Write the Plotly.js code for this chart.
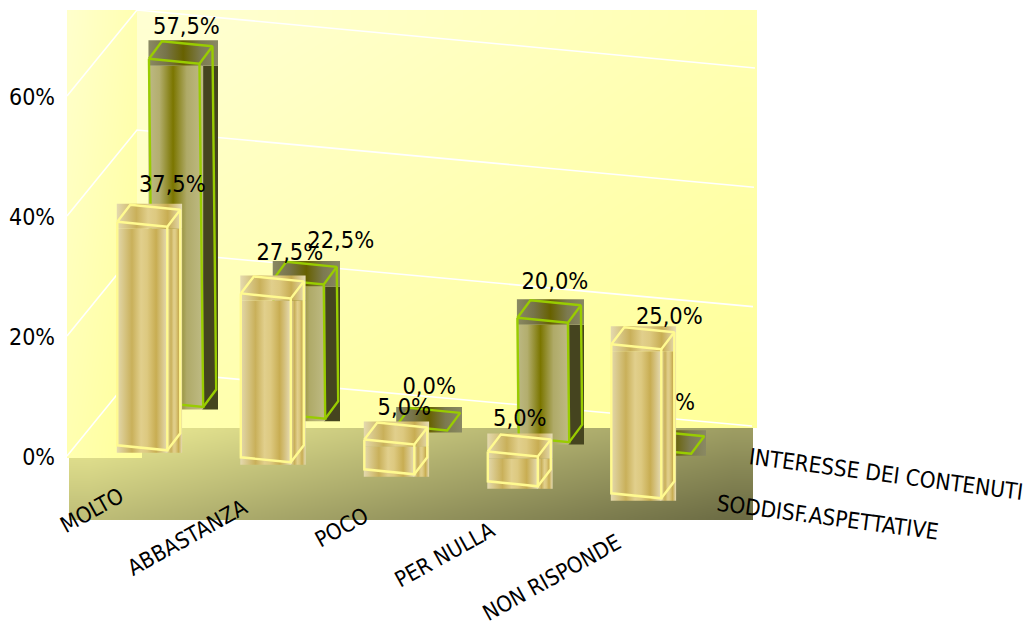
<!DOCTYPE html>
<html>
<head>
<meta charset="utf-8">
<script src="https://cdn.plot.ly/plotly-3.0.1.min.js"></script>
<style>html,body{margin:0;padding:0;background:#fff}#chart{width:1030px;height:628px}</style>
</head>
<body>
<div id="chart"></div>
<script>
// Survey answers, in percent, one value per category for each series.
const categories = ['MOLTO', 'ABBASTANZA', 'POCO', 'PER NULLA', 'NON RISPONDE'];
const soddisfAspettative = [37.5, 27.5, 5.0, 5.0, 25.0];
const interesseContenuti = [57.5, 22.5, 0.0, 20.0, 0.0];
const seriesNames = ['INTERESSE DEI CONTENUTI', 'SODDISF.ASPETTATIVE'];
const valueTicks = [0, 20, 40, 60];
const valueTickText = ['0%', '20%', '40%', '60%'];

const FONT = '"DejaVu Sans Condensed", "DejaVu Sans", sans-serif';
const W = 1030, H = 628, LEFT = 56;
const ZERO_PX = 456.5, PX_PER_UNIT = 6;
const toAxis = py => (ZERO_PX - py) / PX_PER_UNIT;

// Oblique projection of each series row onto the page.
const goldRow = {ox: 117.3, oy: 445.3, sx: 123.5, sy: 12, wx: 50, wy: 5, dx: 13, dy: -17, lean: 0, k: 5.96,
  line: '#FFFA90', sideFill: null,
  front: [[0, '#E4D9AE'], [.12, '#D9C98C'], [.3, '#C9B05A'], [.48, '#E1CF8C'], [.6, '#DDC980'], [.78, '#C8AD52'], [.9, '#D8C688'], [1, '#E6DCB4']]};
const greenRow = {ox: 152.7, oy: 402, sx: 122, sy: 11.7, wx: 50.5, wy: 5, dx: 13, dy: -17.5, lean: .065, k: 5.97,
  line: '#99CC00', sideFill: '#45441F',
  front: [[0, '#BDB985'], [.2, '#B3AE6E'], [.45, '#7B7600'], [.7, '#AFAA68'], [1, '#BFBB85']],
  top: [[0, '#8A8963'], [.25, '#77744A'], [.5, '#676100'], [.75, '#7C7A50'], [1, '#8A8963']]};

function corner(row, i, u, d, v) {
  return [
    row.ox + row.sx * i + u * row.wx + d * row.dx - row.lean * v,
    row.oy + row.sy * i + u * row.wy + d * row.dy - row.k * v
  ];
}

// Gradient-filled rectangle trace, given in page x and page y.
function rectTrace(x0, x1, y0, y1, stops, flat) {
  const t = {
    x: [x0, x1, x1, x0, x0],
    y: [y0, y0, y1, y1, y0].map(toAxis),
    mode: 'lines', line: {width: 0}, fill: 'toself', hoverinfo: 'skip', showlegend: false
  };
  if (flat) t.fillcolor = flat;
  else t.fillgradient = {type: 'horizontal', colorscale: stops};
  return t;
}

function outlineTrace(points, color, width) {
  return {
    x: points.map(p => p[0]),
    y: points.map(p => toAxis(p[1])),
    mode: 'lines', line: {width: width, color: color, simplify: false},
    hoverinfo: 'skip', showlegend: false
  };
}

function boxTraces(row, i, v) {
  const fl = corner(row, i, 0, 0, 0), fr = corner(row, i, 1, 0, 0), br = corner(row, i, 1, 1, 0);
  const tfl = corner(row, i, 0, 0, v), tfr = corner(row, i, 1, 0, v);
  const tbr = corner(row, i, 1, 1, v), tbl = corner(row, i, 0, 1, v);
  const left = Math.min(fl[0], tfl[0]) - 0.5, right = Math.max(br[0], tbr[0]) + 1.8;
  const topTop = tbl[1] - 1, topBottom = tfr[1] + 2, bottom = fr[1] + 2.5;
  const topStops = row.top || row.front;
  const out = [];
  if (v > 0) {
    out.push(rectTrace(fr[0] - 1, right, topBottom, bottom, row.front, row.sideFill));
    out.push(rectTrace(left, fr[0], topBottom, bottom, row.front));
  }
  out.push(rectTrace(left, right, topTop, topBottom, topStops));
  if (v > 0) {
    out.push(outlineTrace([tfl, fl, fr, tfr], row.line, 2.4));
    out.push(outlineTrace([fr, br, tbr], row.line, 2.4));
  }
  out.push(outlineTrace([tfl, tfr, tbr, tbl, tfl], row.line, 2.4));
  return out;
}

// Value labels sit above each box; offsets keep them clear of neighbouring marks.
const percentText = v => v.toFixed(1).replace('.', ',') + '%';
function labelTrace(row, values, offX, offY) {
  const pts = values.map((v, i) => corner(row, i, 1, 0, v));
  return {
    x: pts.map((p, i) => p[0] + offX[i]),
    y: pts.map((p, i) => toAxis(p[1] + offY[i])),
    text: values.map(percentText),
    mode: 'text', textposition: 'middle center',
    textfont: {family: FONT, size: 23.4, color: '#000'},
    hoverinfo: 'skip', showlegend: false, cliponaxis: false
  };
}

// Smoothly shaded backdrop panel. t holds the shade at the four corners.
function panel(x0, x1, top, bottom, t, scale) {
  const n = 16, xs = [], ys = [], z = [];
  for (let c = 0; c <= n + 1; c++) xs.push(x0 + (x1 - x0) * c / (n + 1));
  for (let r = 0; r <= n + 1; r++) ys.push(toAxis(bottom + (top - bottom) * r / (n + 1)));
  for (let r = 0; r <= n; r++) {
    const fy = r / n, row = [];
    for (let c = 0; c <= n; c++) {
      const fx = c / n;
      row.push((t[1][0] * (1 - fx) + t[1][1] * fx) * (1 - fy) + (t[0][0] * (1 - fx) + t[0][1] * fx) * fy);
    }
    z.push(row);
  }
  return {type: 'heatmap', x: xs, y: ys, z: z, zmin: 0, zmax: 1, zsmooth: 'best',
    colorscale: scale, showscale: false, hoverinfo: 'skip'};
}

const wallScale = [[0, '#FFFFD2'], [1, '#FFFF99']];
const floorScale = [[0, '#ECEB94'], [1, '#6C6C44']];

const traces = [
  panel(69, 753, 428, 520, [[0, .62], [.36, 1]], floorScale),
  panel(67, 142, 10, 458, [[.12, .6], [.6, 1]], wallScale),
  panel(137, 757, 10, 428, [[0, .55], [.6, 1]], wallScale)
];

// Grid lines run along the side wall and then across the back wall.
valueTicks.forEach(v => {
  traces.push(outlineTrace([
    [67, ZERO_PX - 0.5 - PX_PER_UNIT * v],
    [137, 370 - PX_PER_UNIT * v],
    [752 + v * 0.05, 426 - PX_PER_UNIT * v + v * 0.033]
  ], '#FFFFFF', 1.6));
});

interesseContenuti.forEach((v, i) => traces.push(...boxTraces(greenRow, i, v)));
traces.push(labelTrace(greenRow, interesseContenuti,
  [-13, 17, -18, -13, -23], [-35.5, -42, -42, -39.5, -50]));
soddisfAspettative.forEach((v, i) => traces.push(...boxTraces(goldRow, i, v)));
traces.push(labelTrace(goldRow, soddisfAspettative,
  [5, -1, -10, -18, 8], [-41, -44, -35, -36, -31]));

// Category names step along the front edge of the floor.
const categoryRight = [129, 253, 374, 501, 627];
const categoryTop = [482, 493, 501, 516, 528];
const annotations = categories.map((c, i) => ({
  text: c, x: categoryRight[i], y: toAxis(categoryTop[i]),
  xref: 'x', yref: 'y', xanchor: 'right', yanchor: 'top',
  textangle: -29, showarrow: false, borderpad: 0,
  font: {family: FONT, size: 22, color: '#000'}
}));
[[746, 442], [714, 488.5]].forEach((p, s) => annotations.push({
  text: seriesNames[s], x: p[0], y: toAxis(p[1]),
  xref: 'x', yref: 'y', xanchor: 'left', yanchor: 'top',
  textangle: 7.5, showarrow: false, borderpad: 0,
  font: {family: FONT, size: 22.4, color: '#000'}
}));

const layout = {
  width: W, height: H,
  margin: {l: LEFT, r: 0, t: 0, b: 0},
  paper_bgcolor: '#fff', plot_bgcolor: '#fff',
  showlegend: false,
  xaxis: {range: [LEFT, W], visible: false, fixedrange: true},
  yaxis: {
    range: [toAxis(H), toAxis(0)], tickvals: valueTicks, ticktext: valueTickText,
    showgrid: false, zeroline: false, showline: false, ticks: '', fixedrange: true,
    tickfont: {family: FONT, size: 23, color: '#000'}
  },
  annotations: annotations
};

Plotly.newPlot('chart', traces, layout, {displayModeBar: false, staticPlot: true});
</script>
</body>
</html>
